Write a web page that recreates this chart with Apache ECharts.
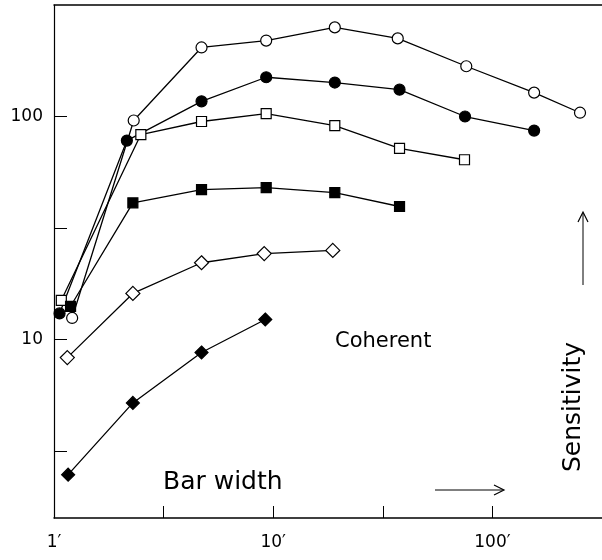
<!DOCTYPE html>
<html>
<head>
<meta charset="utf-8">
<script src="https://cdn.jsdelivr.net/npm/echarts@6/dist/echarts.min.js"></script>
<style>
  html, body { margin: 0; padding: 0; background: #fff; }
  #chart { width: 602px; height: 560px; }
</style>
</head>
<body>
<div id="chart"></div>
<script>
// bar width (arc min) vs sensitivity, log-log
var openCircleX = [1.21, 2.31, 4.71, 9.29, 19.1, 37, 76, 155, 251]
var openCircleY = [12.5, 96, 204, 219, 251, 224, 168, 128, 104]

var filledCircleX = [1.06, 2.15, 4.71, 9.29, 19.1, 37.7, 75, 155]
var filledCircleY = [13.1, 78, 117, 150, 142, 132, 100, 86.5]

var openSquareX = [1.08, 2.49, 4.71, 9.29, 19.1, 37.7, 74.6]
var openSquareY = [15.0, 83, 95, 103, 91, 72, 64]

var filledSquareX = [1.19, 2.29, 4.71, 9.29, 19.1, 37.7]
var filledSquareY = [14.1, 41, 47, 48, 45.6, 39.5]

var openDiamondX = [1.15, 2.29, 4.71, 9.1, 18.7]
var openDiamondY = [8.3, 16.1, 22.1, 24.3, 25.1]

var filledDiamondX = [1.16, 2.29, 4.71, 9.2]
var filledDiamondY = [2.48, 5.2, 8.75, 12.3]

var xTicks = [3.1623, 10, 31.623, 100]
var xLabels = [1, 10, 100]
var yTicks = [3.1623, 10, 31.623, 100]
var yLabels = [10, 100]

var FONT = 'DejaVu Sans'

function pairs (xs, ys) {
  return xs.map(function (x, i) { return [x, ys[i]] })
}

function makeSeries (xs, ys, symbol, size, filled) {
  return {
    type: 'line',
    data: pairs(xs, ys),
    symbol: symbol,
    symbolSize: size,
    showAllSymbol: true,
    animation: false,
    lineStyle: { color: '#000', width: 1.3 },
    itemStyle: {
      color: filled ? '#000' : '#fff',
      borderColor: '#000',
      borderWidth: 1.2
    }
  }
}

var chart = echarts.init(document.getElementById('chart'))
chart.setOption({
  backgroundColor: '#fff',
  animation: false,
  grid: { left: 54, right: 0, top: 5, bottom: 42 },
  xAxis: [
    {
      type: 'log',
      min: 1,
      max: 316.23,
      axisLine: { show: true, lineStyle: { color: '#000', width: 1.5 } },
      axisTick: {
        show: true,
        inside: true,
        length: 12,
        customValues: xTicks,
        lineStyle: { color: '#000', width: 1 }
      },
      axisLabel: {
        customValues: xLabels,
        margin: 16,
        color: '#000',
        fontSize: 17,
        fontFamily: FONT,
        formatter: function (v) { return Math.round(v) + '\u2032' }
      },
      splitLine: { show: false },
      minorSplitLine: { show: false }
    },
    {
      type: 'log',
      position: 'top',
      min: 1,
      max: 316.23,
      axisLine: { show: true, lineStyle: { color: '#000', width: 1.5 } },
      axisTick: { show: false },
      axisLabel: { show: false },
      splitLine: { show: false }
    }
  ],
  yAxis: {
    type: 'log',
    min: 1.5849,
    max: 316.23,
    axisLine: { show: true, lineStyle: { color: '#000', width: 1.2 } },
    axisTick: {
      show: true,
      inside: true,
      length: 13,
      customValues: yTicks,
      lineStyle: { color: '#000', width: 1 }
    },
    axisLabel: {
      customValues: yLabels,
      margin: 11,
      color: '#000',
      fontSize: 17,
      fontFamily: FONT,
      formatter: function (v) { return String(Math.round(v)) }
    },
    splitLine: { show: false }
  },
  series: [
    makeSeries(openCircleX, openCircleY, 'circle', 11, false),
    makeSeries(filledCircleX, filledCircleY, 'circle', 11, true),
    makeSeries(openSquareX, openSquareY, 'rect', 10, false),
    makeSeries(filledSquareX, filledSquareY, 'rect', 10, true),
    makeSeries(openDiamondX, openDiamondY, 'diamond', 14, false),
    makeSeries(filledDiamondX, filledDiamondY, 'diamond', 13, true)
  ],
  graphic: [
    {
      type: 'text',
      left: 335,
      top: 331,
      style: { text: 'Coherent', font: '21px "DejaVu Sans"', fill: '#000' }
    },
    {
      type: 'text',
      left: 163,
      top: 470,
      style: { text: 'Bar width', font: '25px "DejaVu Sans"', fill: '#000' }
    },
    {
      type: 'text',
      x: 573,
      y: 407,
      rotation: Math.PI / 2,
      style: {
        text: 'Sensitivity',
        font: '25px "DejaVu Sans"',
        fill: '#000',
        align: 'center',
        verticalAlign: 'middle'
      }
    },
    {
      type: 'line',
      shape: { x1: 583, y1: 213, x2: 583, y2: 285 },
      style: { stroke: '#000', lineWidth: 1 }
    },
    {
      type: 'polyline',
      shape: { points: [[578, 222], [583, 212], [588, 222]] },
      style: { stroke: '#000', lineWidth: 1.2, fill: null }
    },
    {
      type: 'line',
      shape: { x1: 435, y1: 490, x2: 503, y2: 490 },
      style: { stroke: '#000', lineWidth: 1 }
    },
    {
      type: 'polyline',
      shape: { points: [[494, 485], [504, 490], [494, 495]] },
      style: { stroke: '#000', lineWidth: 1.2, fill: null }
    }
  ]
})
</script>
</body>
</html>
